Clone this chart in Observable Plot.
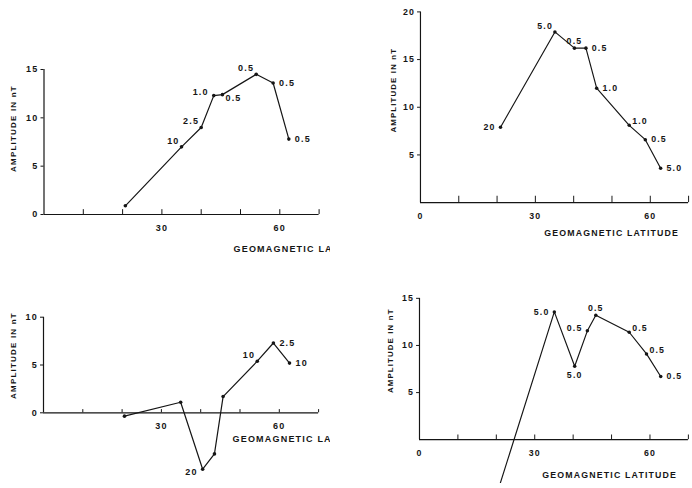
<!DOCTYPE html>
<html><head><meta charset="utf-8">
<script src="https://cdn.jsdelivr.net/npm/d3@7"></script>
<script src="https://cdn.jsdelivr.net/npm/@observablehq/plot@0.6"></script>
<style>
body{margin:0;background:#fff;}
#root{position:relative;width:692px;height:488px;overflow:hidden;background:#fff;}
.panel{position:absolute;overflow:hidden;background:#fff;}
.panel svg text{letter-spacing:1.2px;}
</style></head><body><div id="root"></div>
<script>
// ---- data (geomagnetic latitude, amplitude in nT, point labels) ----
const xTitle = "GEOMAGNETIC LATITUDE";
const yTitle = "AMPLITUDE IN nT";
const xTickMarks = [10, 20, 30, 40, 50, 60, 70];

const p1Lat = [20.7, 35.0, 40.0, 43.2, 45.4, 54.0, 58.3, 62.3];
const p1Amp = [0.9, 7.0, 9.0, 12.3, 12.4, 14.5, 13.6, 7.8];
const p1Lab = ["", "10", "2.5", "1.0", "0.5", "0.5", "0.5", "0.5"];
const p1YTicks = [0, 5, 10, 15];
const p1XLabels = [30, 60];

const p2Lat = [20.9, 35.1, 40.2, 43.2, 46.0, 54.5, 58.7, 62.7];
const p2Amp = [7.9, 17.9, 16.2, 16.2, 12.0, 8.1, 6.6, 3.6];
const p2Lab = ["20", "5.0", "0.5", "0.5", "1.0", "1.0", "0.5", "5.0"];
const p2YTicks = [5, 10, 15, 20];
const p2XLabels = [0, 30, 60];

const p3Lat = [20.6, 34.9, 40.5, 43.5, 45.7, 54.4, 58.5, 62.6];
const p3Amp = [-0.35, 1.1, -5.9, -4.3, 1.7, 5.4, 7.3, 5.2];
const p3Lab = ["", "", "20", "", "", "10", "2.5", "10"];
const p3YTicks = [0, 5, 10];
const p3XLabels = [30, 60];

const p4Lat = [20.5, 35.1, 40.4, 43.7, 45.9, 54.6, 59.1, 62.8];
const p4Amp = [-5.3, 13.56, 7.8, 11.55, 13.2, 11.4, 9.1, 6.7];
const p4Lab = ["", "5.0", "5.0", "0.5", "0.5", "0.5", "0.5", "0.5"];
const p4YTicks = [5, 10, 15];
const p4XLabels = [0, 30, 60];

// ---- label placement (kept apart from the data) ----
const p1Side = [null, "tl", "tl", "ul", "br", "tl", "r", "r"];
const p2Side = ["l", "tl", "t", "r", "r", "tr", "r", "r"];
const p3Side = [null, null, "dl", null, null, "tl", "r", "r"];
const p4Side = [null, "l", "b", "ul", "t", "tr", "tr", "r"];

const SIDES = {
  r:  {textAnchor: "start",  dx: 6,  dy: 0},
  l:  {textAnchor: "end",    dx: -5, dy: 0},
  ul: {textAnchor: "end",    dx: -5, dy: -3},
  dl: {textAnchor: "end",    dx: -5, dy: 3},
  tl: {textAnchor: "end",    dx: -2, dy: -6},
  tr: {textAnchor: "start",  dx: 3,  dy: -4},
  t:  {textAnchor: "middle", dx: 0,  dy: -7},
  b:  {textAnchor: "middle", dx: 0,  dy: 9},
  br: {textAnchor: "start",  dx: 3,  dy: 3}
};

const INK = "#151515";

function panel(lat, amp, lab, side, yTicks, xLabels, cfg) {
  const rows = lat.map((x, i) => ({lat: x, amp: amp[i], label: lab[i], side: side[i]}));
  const yMax = yTicks[yTicks.length - 1];
  const textMarks = Object.entries(SIDES).map(([k, o]) =>
    Plot.text(rows.filter(d => d.side === k && d.label), {
      x: "lat", y: "amp", text: "label", fill: INK,
      textAnchor: o.textAnchor, dx: o.dx, dy: o.dy, fontSize: 9, fontWeight: "bold"
    }));
  const svg = Plot.plot({
    width: cfg.width, height: cfg.height,
    marginLeft: cfg.ml, marginRight: cfg.mr, marginTop: cfg.mt, marginBottom: cfg.mb,
    x: {domain: [0, 70]},
    y: {domain: [0, yMax]},
    style: {fontFamily: "'Liberation Sans', Arial, sans-serif", fontSize: "9px", fontWeight: "bold", color: INK, background: "#fff"},
    marks: [
      Plot.ruleY([0], {x1: 0, x2: 70, stroke: INK, strokeWidth: 1.2}),
      Plot.ruleX([0], {y1: 0, y2: yMax, stroke: INK, strokeWidth: 1.2}),
      Plot.ruleX(xTickMarks, {x: d => d, y1: 0, y2: yMax / 30, stroke: INK, strokeWidth: 1}),
      Plot.axisX({ticks: xLabels, tickSize: 0, tickPadding: 10, label: null, tickFormat: d => String(d), fontSize: 9, fontWeight: "bold"}),
      Plot.axisY({ticks: yTicks, tickSize: 3, tickPadding: 2.5, label: null, tickFormat: d => String(d), fontSize: 9, fontWeight: "bold"}),
      Plot.line(rows, {x: "lat", y: "amp", stroke: INK, strokeWidth: 1.2}),
      Plot.dot(rows, {x: "lat", y: "amp", r: 1.8, fill: INK, stroke: null}),
      ...textMarks,
      Plot.text([xTitle], {frameAnchor: "bottom-left", textAnchor: "start", dx: cfg.xtDx, dy: cfg.xtDy, text: d => d, fill: INK, fontSize: 9, fontWeight: "bold"}),
      Plot.text([yTitle], {frameAnchor: "left", textAnchor: "middle", rotate: -90, dx: cfg.ytDx, dy: cfg.ytDy, text: d => d, fill: INK, fontSize: 8, fontWeight: "bold"})
    ]
  });
  const box = document.createElement("div");
  box.className = "panel";
  box.style.left = cfg.left + "px";
  box.style.top = cfg.top + "px";
  box.style.width = cfg.boxW + "px";
  box.style.height = cfg.boxH + "px";
  box.appendChild(svg);
  document.getElementById("root").appendChild(box);
}

panel(p1Lat, p1Amp, p1Lab, p1Side, p1YTicks, p1XLabels, {
  left: 0, top: 0, boxW: 330, boxH: 262, width: 330, height: 262,
  ml: 43.5, mr: 11.4, mt: 69, mb: 48,
  xtDx: 189.5, xtDy: 37, ytDx: -30.5, ytDy: -13.5
});
panel(p2Lat, p2Amp, p2Lab, p2Side, p2YTicks, p2XLabels, {
  left: 380, top: 0, boxW: 312, boxH: 250, width: 320, height: 250,
  ml: 41, mr: 4, mt: 11.7, mb: 42.7,
  xtDx: 127, xtDy: 34.7, ytDx: -28, ytDy: -17.5
});
panel(p3Lat, p3Amp, p3Lab, p3Side, p3YTicks, p3XLabels, {
  left: 0, top: 290, boxW: 330, boxH: 190, width: 330, height: 190,
  ml: 43, mr: 11.9, mt: 26.7, mb: 67.7,
  xtDx: 189, xtDy: 28.7, ytDx: -30, ytDy: -9.5
});
panel(p4Lat, p4Amp, p4Lab, p4Side, p4YTicks, p4XLabels, {
  left: 380, top: 280, boxW: 312, boxH: 208, width: 320, height: 208,
  ml: 40, mr: 4.2, mt: 18.3, mb: 44.7,
  xtDx: 126, xtDy: 39.4, ytDx: -30, ytDy: -18.8
});
</script>
</body></html>
